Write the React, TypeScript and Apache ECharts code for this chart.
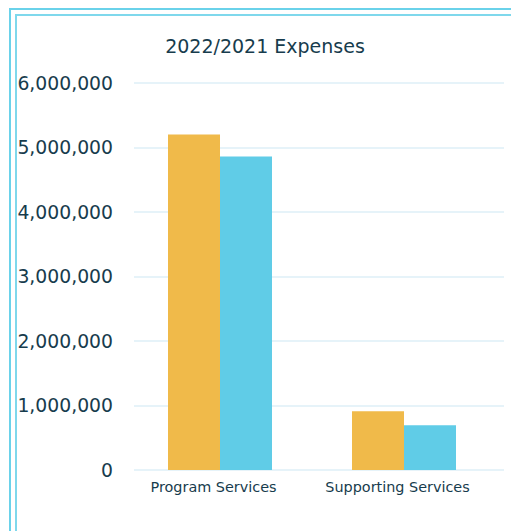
import React, { useEffect, useRef } from "react";
import * as echarts from "echarts";

const categories = ["Program Services", "Supporting Services"];
const series2022 = [5200000, 910000];
const series2021 = [4860000, 695000];
const yMin = 0;
const yMax = 6000000;
const yInterval = 1000000;
const title = "2022/2021 Expenses";

const textColor = "#173c4d";

export default function App() {
  const ref = useRef<HTMLDivElement>(null);
  useEffect(() => {
    const chart = echarts.init(ref.current!, null, { renderer: "svg" });
    chart.setOption({
      animation: false,
      backgroundColor: "transparent",
      title: {
        text: title,
        left: 260,
        top: 31,
        textAlign: "center",
        textStyle: { fontFamily: "DejaVu Sans", fontSize: 19, fontWeight: "normal", color: textColor },
      },
      grid: [
        { left: 128, right: 15, top: 83, bottom: 61, containLabel: false },
        { left: 134, right: 7, top: 83, bottom: 61, containLabel: false },
      ],
      xAxis: [
        {
          type: "category",
          gridIndex: 0,
          data: categories,
          axisLine: { show: false },
          axisTick: { show: false },
          axisLabel: {
            interval: 0,
            margin: 10,
            fontFamily: "DejaVu Sans",
            fontSize: 14.4,
            color: textColor,
            hideOverlap: false,
            padding: [0, 13, 0, 0],
          },
        },
        { type: "category", gridIndex: 1, data: categories, show: false },
      ],
      yAxis: [
        {
          type: "value",
          gridIndex: 0,
          min: yMin,
          max: yMax,
          interval: yInterval,
          axisLine: { show: false },
          axisTick: { show: false },
          splitLine: { show: false },
          axisLabel: {
            margin: 15,
            fontFamily: "DejaVu Sans",
            fontSize: 18.8,
            color: textColor,
            formatter: (v: number) => v.toLocaleString("en-US"),
          },
        },
        {
          type: "value",
          gridIndex: 1,
          min: yMin,
          max: yMax,
          interval: yInterval,
          axisLine: { show: false },
          axisTick: { show: false },
          axisLabel: { show: false },
          splitLine: { show: true, lineStyle: { color: "#e6f3f9", width: 2 } },
        },
      ],
      series: [
        {
          name: "2022",
          type: "bar",
          xAxisIndex: 0,
          yAxisIndex: 0,
          data: series2022,
          barWidth: 52,
          barGap: "0%",
          itemStyle: { color: "#f0ba4a" },
          z: 3,
        },
        {
          name: "2021",
          type: "bar",
          xAxisIndex: 0,
          yAxisIndex: 0,
          data: series2021,
          barWidth: 52,
          barGap: "0%",
          itemStyle: { color: "#60cce7" },
          z: 3,
        },
      ],
    });
    return () => chart.dispose();
  }, []);
  return (
    <div style={{ position: "fixed", left: 0, top: 0, width: 511, height: 531, background: "#fff", overflow: "hidden" }}>
      <div style={{ position: "absolute", left: 9, top: 8, width: 600, height: 600, borderLeft: "2px solid #6ad2ea", borderTop: "2px solid #6ad2ea", boxSizing: "border-box" }} />
      <div style={{ position: "absolute", left: 15, top: 14, width: 600, height: 600, borderLeft: "2px solid #7fd8ec", borderTop: "2px solid #7fd8ec", boxSizing: "border-box" }} />
      <div ref={ref} style={{ position: "absolute", left: 0, top: 0, width: 511, height: 531 }} />
    </div>
  );
}
